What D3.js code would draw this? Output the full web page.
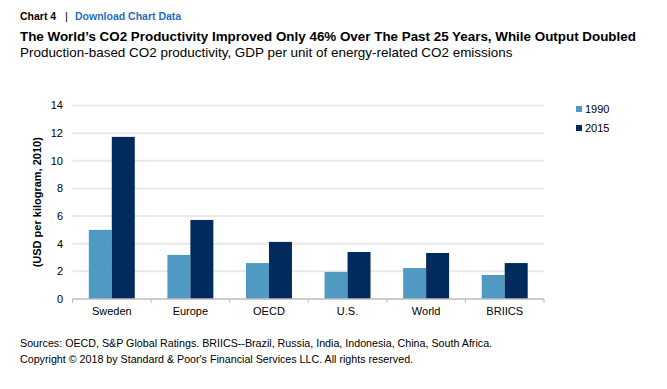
<!DOCTYPE html>
<html>
<head>
<meta charset="utf-8">
<script src="https://cdn.jsdelivr.net/npm/d3@7"></script>
<style>
  body { margin: 0; background: #fff; font-family: Arial, "Liberation Sans", sans-serif; }
  svg text { font-family: Arial, "Liberation Sans", sans-serif; }
</style>
</head>
<body>
<div id="chart"></div>
<script>
var categories = ["Sweden", "Europe", "OECD", "U.S.", "World", "BRIICS"];
var seriesNames = ["1990", "2015"];
var values1990 = [5.0, 3.19, 2.6, 1.96, 2.24, 1.74];
var values2015 = [11.73, 5.72, 4.13, 3.4, 3.33, 2.6];
var yTicks = [0, 2, 4, 6, 8, 10, 12, 14];

var width = 667, height = 389;
var margin = {left: 72.5, right: 123, top: 105.5, bottom: 90};

var color = d3.scaleOrdinal()
    .domain(seriesNames)
    .range(["#4f99c3", "#002b5c"]);

var data = categories.map(function(c, i) {
  return {name: c, values: [
    {series: "1990", value: values1990[i]},
    {series: "2015", value: values2015[i]}
  ]};
});

var svg = d3.select("#chart").append("svg")
    .attr("width", width)
    .attr("height", height);

// header
svg.append("text").attr("x", 20).attr("y", 20)
    .style("font-size", "10.5px").style("font-weight", "bold")
    .text("Chart 4");
svg.append("text").attr("x", 65).attr("y", 20)
    .style("font-size", "11px")
    .text("|");
svg.append("text").attr("x", 75).attr("y", 20)
    .style("font-size", "10.5px").style("font-weight", "bold")
    .attr("fill", "#1f6fc0")
    .text("Download Chart Data");

svg.append("text")
    .attr("x", 20).attr("y", 41)
    .style("font-size", "13.4px").style("font-weight", "bold")
    .text("The World\u2019s CO2 Productivity Improved Only 46% Over The Past 25 Years, While Output Doubled");

svg.append("text")
    .attr("x", 20).attr("y", 57)
    .style("font-size", "13.45px")
    .text("Production-based CO2 productivity, GDP per unit of energy-related CO2 emissions");

var x0 = d3.scaleBand()
    .domain(categories)
    .range([margin.left, width - margin.right])
    .paddingInner(0)
    .paddingOuter(0);

var x1 = d3.scaleBand()
    .domain(seriesNames)
    .range([0, x0.bandwidth()])
    .paddingOuter(0.71)
    .paddingInner(0);

var y = d3.scaleLinear()
    .domain([0, 14])
    .range([height - margin.bottom, margin.top]);

// gridlines
svg.append("g")
  .selectAll("line")
    .data(yTicks.slice(1))
  .enter().append("line")
    .attr("x1", margin.left)
    .attr("x2", width - margin.right)
    .attr("y1", function(d) { return y(d); })
    .attr("y2", function(d) { return y(d); })
    .attr("stroke", "#e8e8e8")
    .attr("stroke-width", 2);

// y axis labels
svg.append("g")
  .selectAll("text")
    .data(yTicks)
  .enter().append("text")
    .attr("x", 63)
    .attr("y", function(d) { return y(d); })
    .attr("dy", ".35em")
    .style("text-anchor", "end")
    .style("font-size", "11px")
    .text(function(d) { return d; });

svg.append("text")
    .attr("transform", "translate(37," + y(7) + ") rotate(-90)")
    .attr("dy", ".35em")
    .style("text-anchor", "middle")
    .style("font-size", "11px")
    .style("font-weight", "bold")
    .text("(USD per kilogram, 2010)");

// bars
var groups = svg.append("g")
  .selectAll("g")
    .data(data)
  .enter().append("g")
    .attr("transform", function(d) { return "translate(" + x0(d.name) + ",0)"; });

groups.selectAll("rect")
    .data(function(d) { return d.values; })
  .enter().append("rect")
    .attr("x", function(d) { return x1(d.series); })
    .attr("width", x1.bandwidth())
    .attr("y", function(d) { return y(d.value); })
    .attr("height", function(d) { return y(0) - y(d.value); })
    .style("fill", function(d) { return color(d.series); });

// x axis
var xAxis = svg.append("g")
    .attr("transform", "translate(0," + y(0) + ")");

xAxis.append("line")
    .attr("x1", margin.left)
    .attr("x2", width - margin.right)
    .attr("stroke", "#bdbdbd")
    .attr("stroke-width", 1.5);

xAxis.selectAll(".tick")
    .data(categories.concat([null]))
  .enter().append("line")
    .attr("class", "tick")
    .attr("x1", function(d) { return d === null ? width - margin.right : x0(d); })
    .attr("x2", function(d) { return d === null ? width - margin.right : x0(d); })
    .attr("y1", 0)
    .attr("y2", 4)
    .attr("stroke", "#bdbdbd");

xAxis.selectAll(".label")
    .data(categories)
  .enter().append("text")
    .attr("class", "label")
    .attr("x", function(d) { return x0(d) + x0.bandwidth() / 2; })
    .attr("y", 16)
    .style("text-anchor", "middle")
    .style("font-size", "11px")
    .text(function(d) { return d; });

// legend
var legend = svg.append("g")
  .selectAll("g")
    .data(seriesNames)
  .enter().append("g")
    .attr("transform", function(d, i) { return "translate(576," + (109 + i * 19) + ")"; });

legend.append("rect")
    .attr("x", 0)
    .attr("y", -3)
    .attr("width", 6)
    .attr("height", 6)
    .style("fill", color);

legend.append("text")
    .attr("x", 9)
    .attr("dy", ".35em")
    .style("font-size", "11px")
    .text(function(d) { return d; });

// footer
svg.append("text")
    .attr("x", 20).attr("y", 347)
    .style("font-size", "10.7px")
    .text("Sources: OECD, S&P Global Ratings. BRIICS--Brazil, Russia, India, Indonesia, China, South Africa.");

svg.append("text")
    .attr("x", 20).attr("y", 363)
    .style("font-size", "10.7px")
    .text("Copyright \u00a9 2018 by Standard & Poor's Financial Services LLC. All rights reserved.");
</script>
</body>
</html>
